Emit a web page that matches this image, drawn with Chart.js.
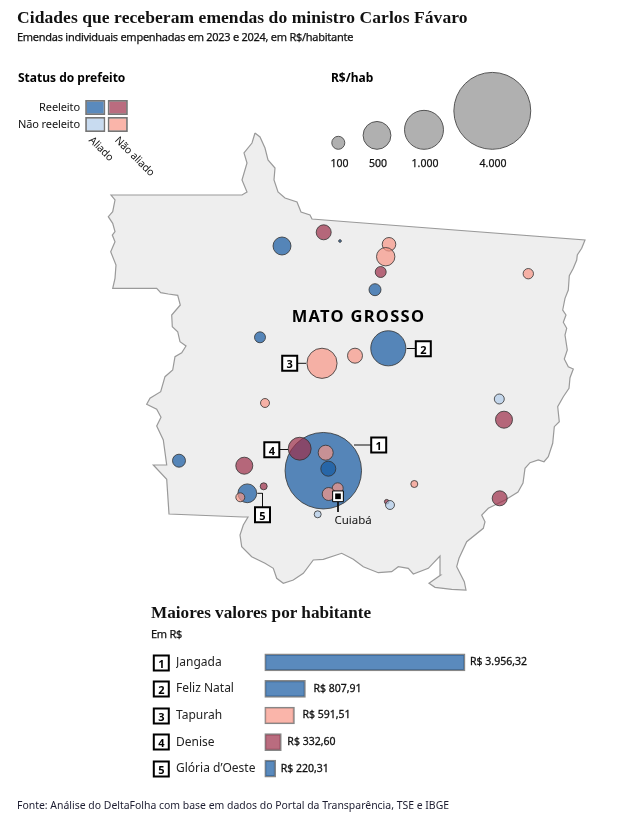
<!DOCTYPE html>
<html lang="pt-BR">
<head>
<meta charset="utf-8">
<title>Cidades que receberam emendas do ministro Carlos Fávaro</title>
<script src="https://cdn.jsdelivr.net/npm/chart.js@4/dist/chart.umd.min.js"></script>
<style>
    html, body { margin: 0; padding: 0; background: #fff; }
    #page { position: relative; width: 630px; height: 827px; overflow: hidden; font-family: "Noto Sans", sans-serif; color: #111; }
    canvas { position: absolute; }
    .txt { position: absolute; white-space: nowrap; line-height: 1; }
    .head { font-family: "Liberation Serif", serif; font-weight: 700; font-size: 17.5px; letter-spacing: 0.07px; color: #111; transform: translateY(-50%); }
    .head2 { font-family: "Liberation Serif", serif; font-weight: 700; font-size: 17.2px; color: #111; transform: translateY(-50%); }
    .sub { font-size: 11px; letter-spacing: -0.27px; -webkit-text-stroke: 0.25px #111; transform: translateY(-50%); }
    .bold { font-size: 12px; font-weight: 700; color: #000; transform: translateY(-50%); }
    .key { font-size: 11px; letter-spacing: -0.1px; transform: translate(-100%, -50%); }
    .turn { font-size: 10.5px; letter-spacing: -0.2px; transform-origin: 0 50%; transform: translateY(-50%) rotate(45deg); }
    .size { font-size: 10.5px; -webkit-text-stroke: 0.25px #111; transform: translate(-50%, -50%); }
    .num { font-size: 11px; font-weight: 700; color: #000; transform: translate(-50%, -50%); }
    .state { font-size: 16.5px; font-weight: 700; letter-spacing: 1.3px; color: #000; transform: translate(-50%, -50%); }
    .city { font-size: 11.5px; transform: translateY(-50%); }
    .source { font-size: 10.45px; color: #1c1c30; transform: translateY(-50%); }
</style>
</head>
<body>
<div id="page">
    <canvas id="map" width="630" height="827" style="left:0;top:0"></canvas>
    <canvas id="status" width="45" height="32" style="left:84px;top:100px"></canvas>
    <canvas id="bars" width="400" height="133" style="left:140px;top:649px"></canvas>
</div>
<script>
// contorno de Mato Grosso, em unidades do mapa
const borderX = [255,260,265,268,275,274,278,285,297,301,310,312,350,585,581.7,577.3,576.7,573.3,569.3,568.3,565,562.7,566,563.3,566.7,565,567.3,564.3,568.3,573.3,570,569,563.3,557.7,559.3,554.3,552.7,548.3,544,538.3,530,525,523,518,510,505,488.3,481.7,485,483.3,466.7,459,456.7,464.3,466,451.7,435,429,440.7,440,428.3,413.3,408.3,398.3,391.7,378.3,363.3,353.3,341.7,323.3,313.3,303.3,293.3,283.3,276.7,273.3,265,251.7,241.7,240,243.3,248,243,169,166.7,153.3,166.7,163.3,156.7,161,156.7,146.7,150,160.7,165,172.7,175,181.7,186,180,177.7,172.3,171.7,180.3,177.7,168.3,160.7,156.7,112.7,115,116,110.7,115,112.3,115,112.7,108.3,112.7,115,111,242,247,242,247,244,252,255];
const borderY = [133,137,148,160,168,180,192,198,202,212,215,219,222,240,248.3,255,260,268.3,275.7,290,298.3,310,315,322.3,328.3,335,350,359,366.7,369,377.7,388.3,396.7,406.7,421.7,426.7,443.3,456.7,461.7,460,462.7,468.3,483,492,497,500,508.3,515,521.7,528.3,541.7,558.3,566.7,581.7,590,589.3,587.3,583.3,575,556,568.3,574,568.3,566.7,571.7,572.7,566.7,559.3,553.3,559.3,560,573.3,580,583.3,578.3,568.3,563.3,556.7,546.7,535,525,517,517,514,479.3,465,465,440,426,417.3,409.3,404.3,398.3,391.7,376.7,370,356.7,352.7,346,341.7,331.7,326.7,315,305,295.3,294,292.7,288.3,288.3,278.3,265,251.7,241.7,235,231.7,223.3,216.7,211.7,200,195,195,192,180,163,153,143,133];

// municipios: posicao no mapa, R$/habitante e status do prefeito
const cityX = [323.3,388.3,247.3,282,375,260,179,328.3,340,299.7,323.7,380.7,244.3,263.7,504,386.7,499.7,322,389,385.7,528.3,355,265,325.7,337.7,328.7,240.3,414.3,499.3,317.7,390];
const cityY = [470.7,348.3,493.3,246,289.7,337.3,460.7,468.7,241,448.7,232.3,272,465.7,486.3,419.7,501.7,498.3,363.3,244.3,256.7,273.7,355.7,403,452.7,488.3,494,497.3,484,399,514.3,505];
const cityValue = [3956.32,807.91,220.31,200,84,69,100,136,2,332.6,136,69,178,25,178,9,136,591.51,110,210,61,136,44,136,69,100,44,25,56,25,44];
const cityStatus = ["ra","ra","ra","ra","ra","ra","ra","ra","ra","ro","ro","ro","ro","ro","ro","ro","ro","no","no","no","no","no","no","no","no","no","no","no","na","na","na"];

// ordem de desenho: o primeiro fica por baixo
const statusOrder = ["ra", "ro", "no", "na"];
const statusColor = { ra: "rgba(20,89,161,0.7)", ro: "rgba(157,46,73,0.7)", no: "rgba(248,150,134,0.7)", na: "rgba(177,204,233,0.7)" };

const sizeLegendX = [338.3, 377, 424, 492.3];
const sizeLegendValue = [100, 500, 1000, 4000];
const sizeLegendLabels = ["100", "500", "1.000", "4.000"];
const sizeLegendTextX = [339.5, 378, 425, 493];

const rankCities = ["Jangada", "Feliz Natal", "Tapurah", "Denise", "Glória d’Oeste"];
const rankValues = [3956.32, 807.91, 591.51, 332.60, 220.31];
const rankLabels = ["R$ 3.956,32", "R$ 807,91", "R$ 591,51", "R$ 332,60", "R$ 220,31"];
const rankStatus = ["ra", "ra", "no", "ro", "ra"];
const rankBoxX = [161.3, 161.3, 161.3, 161.3, 161.3];
const rankBoxY = [663, 689, 716, 742, 769];
const rankGap = [5, 8, 8, 6, 5];

const calloutX = [378.7, 423.3, 289.7, 271.8, 262.5];
const calloutY = [445, 348.7, 363.3, 449.7, 514.7];
const calloutLines = [
    [[354, 445], [371, 445]],
    [[406.7, 348.5], [416, 348.5]],
    [[306, 363.3], [297, 363.3]],
    [[288, 449.5], [279, 449.5]],
    [[257.3, 493.3], [262.5, 493.3], [262.5, 507]],
    [[338, 502], [338, 512]]
];
const capitalX = [338];
const capitalY = [496.3];

const baseLine = 149.3;

function bubbleRadius(value) {
    return 0.6 * Math.sqrt(value) + 0.5;
}

function zip(xs, ys) {
    return xs.map((x, i) => ({ x: x, y: ys[i] }));
}

function boxDataset(xs, ys, order) {
    return {
        type: "scatter",
        data: zip(xs, ys),
        pointStyle: "rect",
        pointRadius: 10.6,
        pointBackgroundColor: "#fff",
        pointBorderColor: "#000",
        pointBorderWidth: 2,
        order: order
    };
}

const datasets = [];

// o mapa fica embaixo de tudo
datasets.push({
    type: "scatter",
    data: zip(borderX, borderY),
    showLine: true,
    fill: "shape",
    backgroundColor: "#eeeeee",
    borderColor: "#9a9a9a",
    borderWidth: 1.2,
    pointRadius: 0,
    tension: 0,
    order: 100
});

statusOrder.forEach((status, idx) => {
    const points = [];
    cityValue.forEach((value, i) => {
        if (cityStatus[i] === status) points.push({ x: cityX[i], y: cityY[i], r: bubbleRadius(value) });
    });
    datasets.push({
        type: "bubble",
        data: points,
        backgroundColor: statusColor[status],
        borderColor: "rgba(50,50,50,0.8)",
        borderWidth: 1,
        order: 50 - idx
    });
});

datasets.push({
    type: "bubble",
    data: sizeLegendValue.map((value, i) => ({ x: sizeLegendX[i], y: baseLine - bubbleRadius(value), r: bubbleRadius(value) })),
    backgroundColor: "#b0b0b0",
    borderColor: "#555",
    borderWidth: 1,
    order: 40
});

calloutLines.forEach((line) => {
    datasets.push({
        type: "scatter",
        data: line.map((p) => ({ x: p[0], y: p[1] })),
        showLine: true,
        borderColor: "#111",
        borderWidth: 1,
        pointRadius: 0,
        tension: 0,
        order: 30
    });
});

datasets.push(boxDataset(calloutX, calloutY, 20));
datasets.push(boxDataset(rankBoxX, rankBoxY, 20));
datasets.push({
    type: "scatter",
    data: zip(capitalX, capitalY),
    pointStyle: "rect",
    pointRadius: 7.6,
    pointBackgroundColor: "#fff",
    pointBorderColor: "#000",
    pointBorderWidth: 1,
    order: 11
});
datasets.push({
    type: "scatter",
    data: zip(capitalX, capitalY),
    pointStyle: "rect",
    pointRadius: 4,
    pointBackgroundColor: "#000",
    pointBorderWidth: 0,
    order: 10
});

new Chart(document.getElementById("map"), {
    type: "bubble",
    data: { datasets: datasets },
    options: {
        responsive: false,
        animation: false,
        events: [],
        layout: { padding: 0, autoPadding: false },
        scales: {
            x: { type: "linear", display: false, min: 0, max: 630 },
            y: { type: "linear", display: false, min: 0, max: 827, reverse: true }
        },
        plugins: { legend: { display: false }, tooltip: { enabled: false } }
    }
});

// quadro de status do prefeito
const keyColumns = ["Aliado", "Não aliado"];
const keyReelected = [[1.0625, 2], [1.0625, 2]];
const keyNotReelected = [[0, 0.9375], [0, 0.9375]];

new Chart(document.getElementById("status"), {
    type: "bar",
    data: {
        labels: keyColumns,
        datasets: [
            { data: keyReelected, backgroundColor: [statusColor.ra, statusColor.ro], grouped: false },
            { data: keyNotReelected, backgroundColor: [statusColor.na, statusColor.no], grouped: false }
        ]
    },
    options: {
        responsive: false,
        animation: false,
        events: [],
        layout: { padding: 0, autoPadding: false },
        datasets: { bar: { barPercentage: 0.9, categoryPercentage: 1, borderWidth: 1.8, borderColor: "rgba(60,60,60,0.7)", borderSkipped: false } },
        scales: {
            x: { display: false },
            y: { display: false, min: 0, max: 2 }
        },
        plugins: { legend: { display: false }, tooltip: { enabled: false } }
    }
});

// valor ao lado de cada barra
const valueLabels = {
    id: "valueLabels",
    afterDatasetsDraw(chart) {
        const ctx = chart.ctx;
        ctx.save();
        ctx.font = '10.5px "Noto Sans"';
        ctx.fillStyle = "#111";
        ctx.strokeStyle = "#111";
        ctx.lineWidth = 0.3;
        ctx.textBaseline = "middle";
        chart.getDatasetMeta(0).data.forEach((bar, i) => {
            ctx.fillText(rankLabels[i], bar.x + rankGap[i], bar.y);
            ctx.strokeText(rankLabels[i], bar.x + rankGap[i], bar.y);
        });
        ctx.restore();
    }
};

new Chart(document.getElementById("bars"), {
    type: "bar",
    data: {
        labels: rankCities,
        datasets: [{
            data: rankValues,
            backgroundColor: rankStatus.map((s) => statusColor[s]),
            borderColor: "rgba(70,70,70,0.65)",
            borderWidth: 1.5,
            borderSkipped: false,
            barThickness: 17
        }]
    },
    options: {
        indexAxis: "y",
        responsive: false,
        animation: false,
        events: [],
        layout: { padding: { left: 36, right: 0, top: 0, bottom: 0 }, autoPadding: false },
        scales: {
            x: { display: false, min: 0, max: 5434 },
            y: {
                grid: { display: false },
                border: { display: false },
                afterFit(scale) {
                    scale.width = 88.5;
                    scale.paddingTop = 0;
                    scale.paddingBottom = 0;
                },
                ticks: {
                    autoSkip: false,
                    crossAlign: "far",
                    padding: 0,
                    color: "#222",
                    font: { family: '"Noto Sans"', size: 12 }
                }
            }
        },
        plugins: { legend: { display: false }, tooltip: { enabled: false } }
    },
    plugins: [valueLabels]
});

function addText(text, x, y, cls) {
    const el = document.createElement("div");
    el.className = "txt " + cls;
    el.textContent = text;
    el.style.left = x + "px";
    el.style.top = y + "px";
    document.getElementById("page").appendChild(el);
}

addText("Cidades que receberam emendas do ministro Carlos Fávaro", 17, 17.5, "head");
addText("Emendas individuais empenhadas em 2023 e 2024, em R$/habitante", 17, 36, "sub");
addText("Status do prefeito", 18, 78, "bold");
addText("R$/hab", 331, 78, "bold");
addText("Reeleito", 80, 106, "key");
addText("Não reeleito", 80, 123, "key");
addText("Aliado", 91, 138, "turn");
addText("Não aliado", 117, 138, "turn");
sizeLegendLabels.forEach((label, i) => addText(label, sizeLegendTextX[i], 163, "size"));
addText("MATO GROSSO", 358.5, 315.5, "state");
addText("Cuiabá", 334.5, 519.5, "city");
calloutX.forEach((x, i) => addText(String(i + 1), x, calloutY[i], "num"));
rankBoxX.forEach((x, i) => addText(String(i + 1), x, rankBoxY[i], "num"));
addText("Maiores valores por habitante", 151, 613, "head2");
addText("Em R$", 151, 633, "sub");
addText("Fonte: Análise do DeltaFolha com base em dados do Portal da Transparência, TSE e IBGE", 17, 805, "source");
</script>
</body>
</html>
